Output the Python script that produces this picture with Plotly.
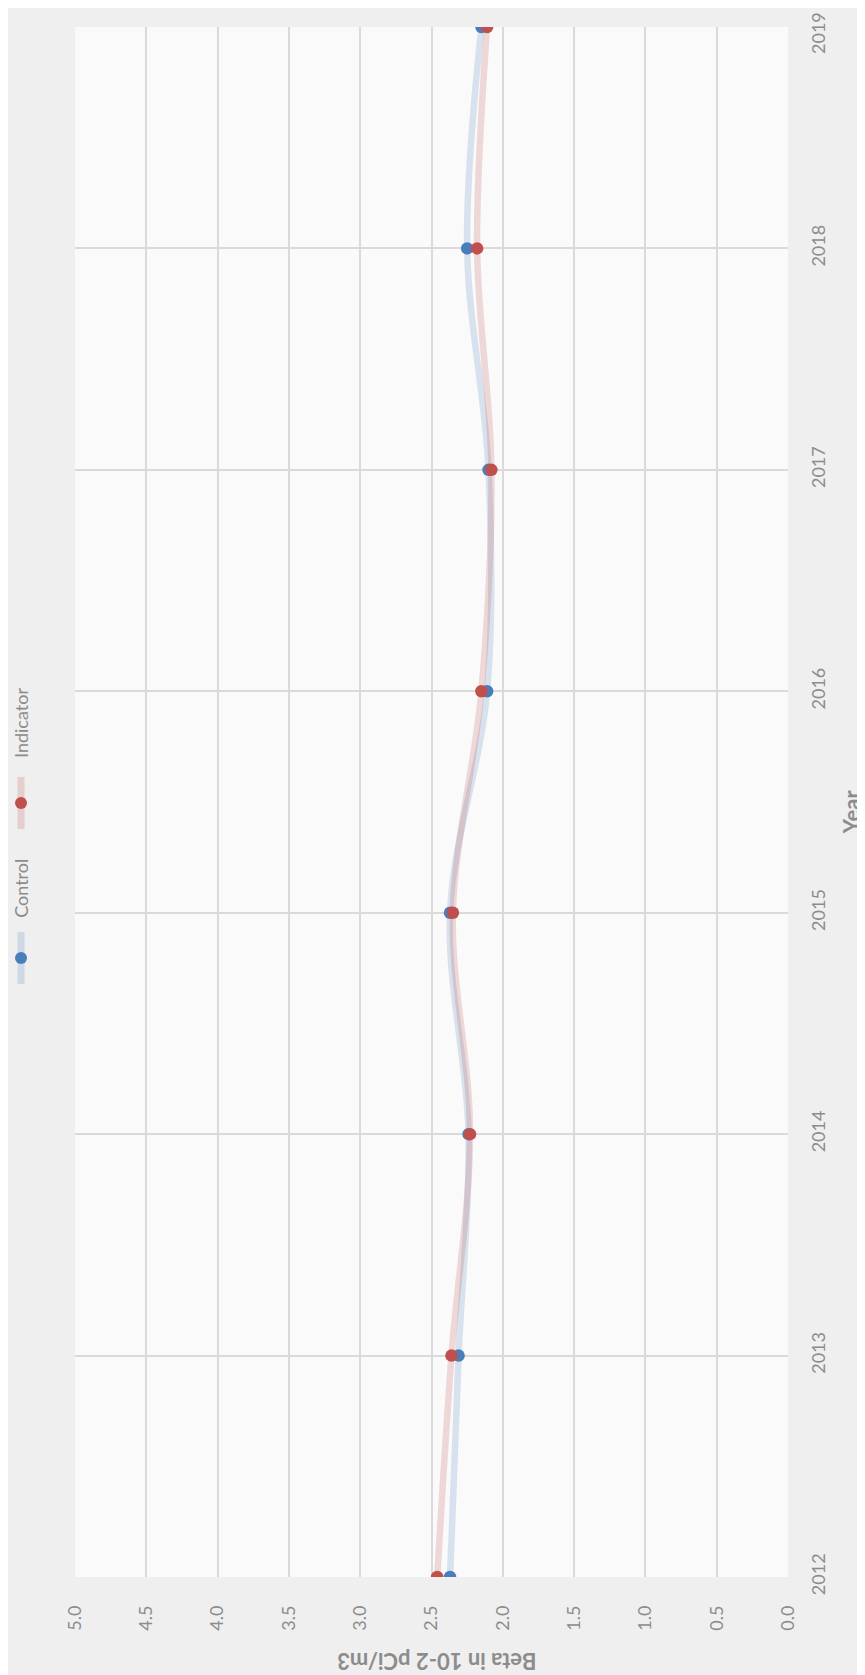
"""Rotated line chart: beta activity by year, control vs indicator."""
import plotly.graph_objects as go

# Data
years = [2012, 2013, 2014, 2015, 2016, 2017, 2018, 2019]
control = [2.37, 2.31, 2.24, 2.37, 2.11, 2.10, 2.25, 2.15]
indicator = [2.46, 2.36, 2.23, 2.35, 2.15, 2.08, 2.18, 2.11]

value_ticks = [0.0, 0.5, 1.0, 1.5, 2.0, 2.5, 3.0, 3.5, 4.0, 4.5, 5.0]

BLUE = '#4a7ebb'
RED = '#c0504d'
PALE_BLUE = 'rgba(79, 129, 189, 0.2)'
PALE_RED = 'rgba(192, 80, 77, 0.2)'
GRAY = '#8c8c8c'
FONT = 'Lato, Open Sans, sans-serif'

fig = go.Figure()

series = [
    ('Control', control, BLUE, PALE_BLUE),
    ('Indicator', indicator, RED, PALE_RED),
]

# wide pale smooth lines first, then the dots
for name, vals, dot, pale in series:
    fig.add_trace(go.Scatter(
        x=vals, y=years,
        mode='lines',
        line=dict(color=pale, width=6.5, shape='spline', smoothing=1.0),
        showlegend=False, hoverinfo='skip'
    ))
for name, vals, dot, pale in series:
    fig.add_trace(go.Scatter(
        x=vals, y=years,
        mode='markers',
        marker=dict(color=dot, size=12.5),
        name=name, showlegend=False
    ))

# hand-built legend, rotated like the rest of the chart
legend_items = [('Indicator', RED, PALE_RED, 0.551, 0.4994),
                ('Control', BLUE, PALE_BLUE, 0.444, 0.3994)]
lx = -0.0757
for name, dot, pale, ty, my in legend_items:
    fig.add_annotation(
        text=name, xref='paper', yref='paper', x=lx, y=ty,
        xanchor='center', yanchor='middle',
        showarrow=False, textangle=-90,
        font=dict(size=18, color=GRAY, family=FONT)
    )
    fig.add_shape(
        type='line', xref='paper', yref='paper',
        xsizemode='pixel', ysizemode='pixel',
        xanchor=lx, yanchor=my, x0=0, x1=0, y0=-26, y1=26,
        line=dict(color=pale, width=7)
    )
    fig.add_shape(
        type='circle', xref='paper', yref='paper',
        xsizemode='pixel', ysizemode='pixel',
        xanchor=lx, yanchor=my, x0=-6, x1=6, y0=-6, y1=6,
        fillcolor=dot, line=dict(width=0)
    )

# the top year label would run off the page, so it is nudged down a little
year_text = [str(y) for y in years[:-1]] + ['']
fig.add_annotation(
    text=str(years[-1]), xref='paper', yref='y', x=1.042, y=years[-1],
    xanchor='center', yanchor='middle', yshift=-6,
    showarrow=False, textangle=-90,
    font=dict(size=18, color=GRAY, family=FONT)
)

# axis titles, rotated with the chart
fig.add_annotation(
    text='<b>Beta in 10-2 pCi/m3</b>', xref='paper', yref='paper',
    x=0.508, y=-0.0545, xanchor='center', yanchor='middle',
    showarrow=False, textangle=180,
    font=dict(size=22, color=GRAY, family=FONT)
)
fig.add_annotation(
    text='<b>Year</b>', xref='paper', yref='paper',
    x=1.0885, y=0.4935, xanchor='center', yanchor='middle',
    showarrow=False, textangle=-90,
    font=dict(size=22, color=GRAY, family=FONT)
)

fig.update_layout(
    width=865, height=1675,
    margin=dict(l=67, r=85, t=19, b=106),
    paper_bgcolor='#efefef',
    plot_bgcolor='#fafafa',
    font=dict(family=FONT, color=GRAY),
    showlegend=False,
    xaxis=dict(
        range=[5.0, 0.0],
        tickvals=value_ticks,
        tickformat='.1f',
        tickangle=-90,
        tickfont=dict(size=18, color=GRAY),
        ticklabelstandoff=24,
        ticklabeloverflow='allow',
        showgrid=True, gridcolor='#dadada', gridwidth=1.5,
        zeroline=False, showline=False,
        automargin=False
    ),
    yaxis=dict(
        range=[2012, 2019],
        tickvals=years,
        ticktext=year_text,
        side='right',
        tickangle=-90,
        tickfont=dict(size=18, color=GRAY),
        ticklabelstandoff=18,
        ticklabeloverflow='allow',
        showgrid=True, gridcolor='#dadada', gridwidth=1.5,
        zeroline=False, showline=False,
        automargin=False
    )
)

fig.write_html("out.html")
